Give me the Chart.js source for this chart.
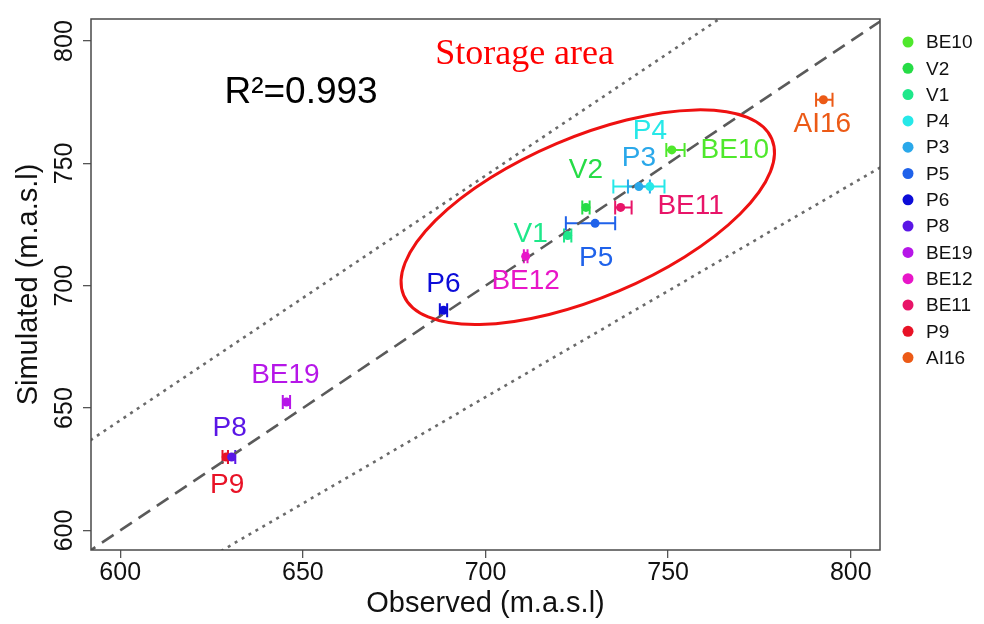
<!DOCTYPE html>
<html>
<head>
<meta charset="utf-8">
<script src="https://cdn.jsdelivr.net/npm/chart.js@4.4.1/dist/chart.umd.min.js"></script>
<style>
  html, body { margin: 0; padding: 0; background: #fff; }
  canvas { display: block; }
</style>
</head>
<body>
<canvas id="chart" width="984" height="624"></canvas>
<script>
// datos: sitios, observado vs simulado (m.a.s.l)
const sites     = ["BE10", "V2", "V1", "P4", "P3", "P5", "P6", "P8", "BE19", "BE12", "BE11", "P9", "AI16"];
const observed  = [751, 727.5, 722.5, 745, 742, 730, 688.5, 630.5, 645.5, 711, 737, 629, 792.5];
const simulated = [755.5, 732, 720.5, 740.5, 740.5, 725.5, 690, 630, 652.5, 712, 732, 630, 776];
const obsLow    = [749.5, 726.5, 721.5, 735, 739, 722, 687.5, 629.5, 644.5, 710.5, 735.5, 628, 790.5];
const obsHigh   = [754.5, 728.5, 723.5, 749, 745, 735.5, 689.5, 631.5, 646.5, 711.5, 740, 629.5, 795];

const xTicks = [600, 650, 700, 750, 800];
const yTicks = [600, 650, 700, 750, 800];

// líneas de referencia
const oneToOneX = [590, 810];
const oneToOneY = [590, 810];
const upperX = [590, 766];
const upperY = [635, 811];
const lowerX = [620, 810];
const lowerY = [585, 750];

const r2Label = "R²=0.993";
const storageLabel = "Storage area";

// estilos
const colors = ["#4fe82c", "#26dc46", "#1ee88a", "#26e8e8", "#2aa8ea", "#1f62ea", "#0c0cd8",
                "#5a16e6", "#b616e8", "#e816c8", "#e81468", "#e81226", "#ec5a16"];
const labelOffset = {
  BE10: [63, 0], V2: [0, -37], V1: [-37, -1], P4: [0, -55], P3: [0, -28], P5: [1, 35],
  P6: [0, -26], P8: [-2, -29], BE19: [-1, -27], BE12: [0, 25], BE11: [70, -1], P9: [1, 28], AI16: [-1, 25]
};
const textAnchors = { r2: { x: 649.5, y: 779 }, storage: { x: 710.7, y: 794.3 } };
const ellipseCenter = { x: 728, y: 728 };

const sans = "'Liberation Sans', Arial, sans-serif";

function pts(xs, ys) {
    return xs.map((x, i) => ({ x: x, y: ys[i] }));
}

const pointSets = sites.map((s, i) => ({
    label: s,
    data: [{ x: observed[i], y: simulated[i] }],
    backgroundColor: colors[i],
    borderColor: colors[i],
    pointRadius: 4.5,
    pointBorderWidth: 0,
    showLine: false,
    order: 1
}));

const lineSets = [
    { label: "_1:1", data: pts(oneToOneX, oneToOneY), borderColor: "#5a5a5a", borderWidth: 2.6,
      borderDash: [14, 8], pointRadius: 0, showLine: true, order: 3 },
    { label: "_up", data: pts(upperX, upperY), borderColor: "#6a6a6a", borderWidth: 2.6,
      borderDash: [3, 5], pointRadius: 0, showLine: true, order: 3 },
    { label: "_low", data: pts(lowerX, lowerY), borderColor: "#6a6a6a", borderWidth: 2.6,
      borderDash: [3, 5], pointRadius: 0, showLine: true, order: 3 }
];

// barras de error, etiquetas, elipse, leyenda y marco
const extras = {
    id: "extras",
    beforeDatasetsDraw(chart) {
        const ctx = chart.ctx, xs = chart.scales.x, ys = chart.scales.y;
        ctx.save();
        ctx.lineWidth = 2;
        sites.forEach((s, i) => {
            const y = ys.getPixelForValue(simulated[i]);
            const x0 = xs.getPixelForValue(obsLow[i]);
            const x1 = xs.getPixelForValue(obsHigh[i]);
            ctx.strokeStyle = colors[i];
            ctx.beginPath();
            ctx.moveTo(x0, y); ctx.lineTo(x1, y);
            ctx.moveTo(x0, y - 7); ctx.lineTo(x0, y + 7);
            ctx.moveTo(x1, y - 7); ctx.lineTo(x1, y + 7);
            ctx.stroke();
        });
        ctx.restore();
    },
    afterDatasetsDraw(chart) {
        const ctx = chart.ctx, xs = chart.scales.x, ys = chart.scales.y;
        const a = chart.chartArea;
        ctx.save();
        // etiquetas de los puntos
        ctx.font = "28px " + sans;
        ctx.textAlign = "center";
        ctx.textBaseline = "middle";
        sites.forEach((s, i) => {
            const off = labelOffset[s];
            ctx.fillStyle = colors[i];
            ctx.fillText(s, xs.getPixelForValue(observed[i]) + off[0], ys.getPixelForValue(simulated[i]) + off[1]);
        });
        // R2
        ctx.fillStyle = "#000";
        ctx.font = "37px " + sans;
        ctx.fillText(r2Label, xs.getPixelForValue(textAnchors.r2.x), ys.getPixelForValue(textAnchors.r2.y));
        // storage area
        ctx.fillStyle = "#ff0000";
        ctx.font = "36px 'Liberation Serif', 'Times New Roman', serif";
        ctx.fillText(storageLabel, xs.getPixelForValue(textAnchors.storage.x), ys.getPixelForValue(textAnchors.storage.y));
        // elipse
        ctx.strokeStyle = "#ee1111";
        ctx.lineWidth = 3;
        ctx.beginPath();
        ctx.ellipse(xs.getPixelForValue(ellipseCenter.x), ys.getPixelForValue(ellipseCenter.y),
                    200, 80, -23 * Math.PI / 180, 0, Math.PI * 2);
        ctx.stroke();
        // marco
        ctx.strokeStyle = "#4a4a4a";
        ctx.lineWidth = 1.5;
        ctx.strokeRect(a.left, a.top, a.right - a.left, a.bottom - a.top);
        // leyenda
        ctx.font = "19px " + sans;
        ctx.textAlign = "left";
        sites.forEach((s, i) => {
            const y = 42 + i * 26.3;
            ctx.fillStyle = colors[i];
            ctx.beginPath();
            ctx.arc(908, y, 5.5, 0, Math.PI * 2);
            ctx.fill();
            ctx.fillStyle = "#111";
            ctx.fillText(s, 926, y + 1);
        });
        ctx.restore();
    }
};

const ctx = document.getElementById("chart").getContext("2d");

new Chart(ctx, {
    type: "scatter",
    data: { datasets: pointSets.concat(lineSets) },
    options: {
        responsive: false,
        animation: false,
        layout: { padding: { top: 19, right: 104, left: 0, bottom: 0 } },
        plugins: { legend: { display: false }, tooltip: { enabled: false } },
        scales: {
            x: {
                type: "linear", min: 592, max: 808,
                afterBuildTicks: s => { s.ticks = xTicks.map(v => ({ value: v })); },
                afterFit: s => { s.height = 74; },
                grid: { drawOnChartArea: false, tickLength: 8, color: "#555", lineWidth: 1.3 },
                border: { display: false },
                ticks: { color: "#111", padding: 0, font: { family: sans, size: 25 } },
                title: { display: true, text: "Observed (m.a.s.l)", color: "#111",
                         font: { family: sans, size: 29 }, padding: { top: 0, bottom: 3 } }
            },
            y: {
                type: "linear", min: 592, max: 809,
                afterBuildTicks: s => { s.ticks = yTicks.map(v => ({ value: v })); },
                afterFit: s => { s.width = 91; },
                grid: { drawOnChartArea: false, tickLength: 8, color: "#555", lineWidth: 1.3 },
                border: { display: false },
                ticks: { color: "#111", padding: -3, minRotation: 90, maxRotation: 90, crossAlign: "center",
                         font: { family: sans, size: 25 } },
                title: { display: true, text: "Simulated (m.a.s.l)", color: "#111",
                         font: { family: sans, size: 29 }, padding: { top: 12, bottom: 0 } }
            }
        }
    },
    plugins: [extras]
});
</script>
</body>
</html>
